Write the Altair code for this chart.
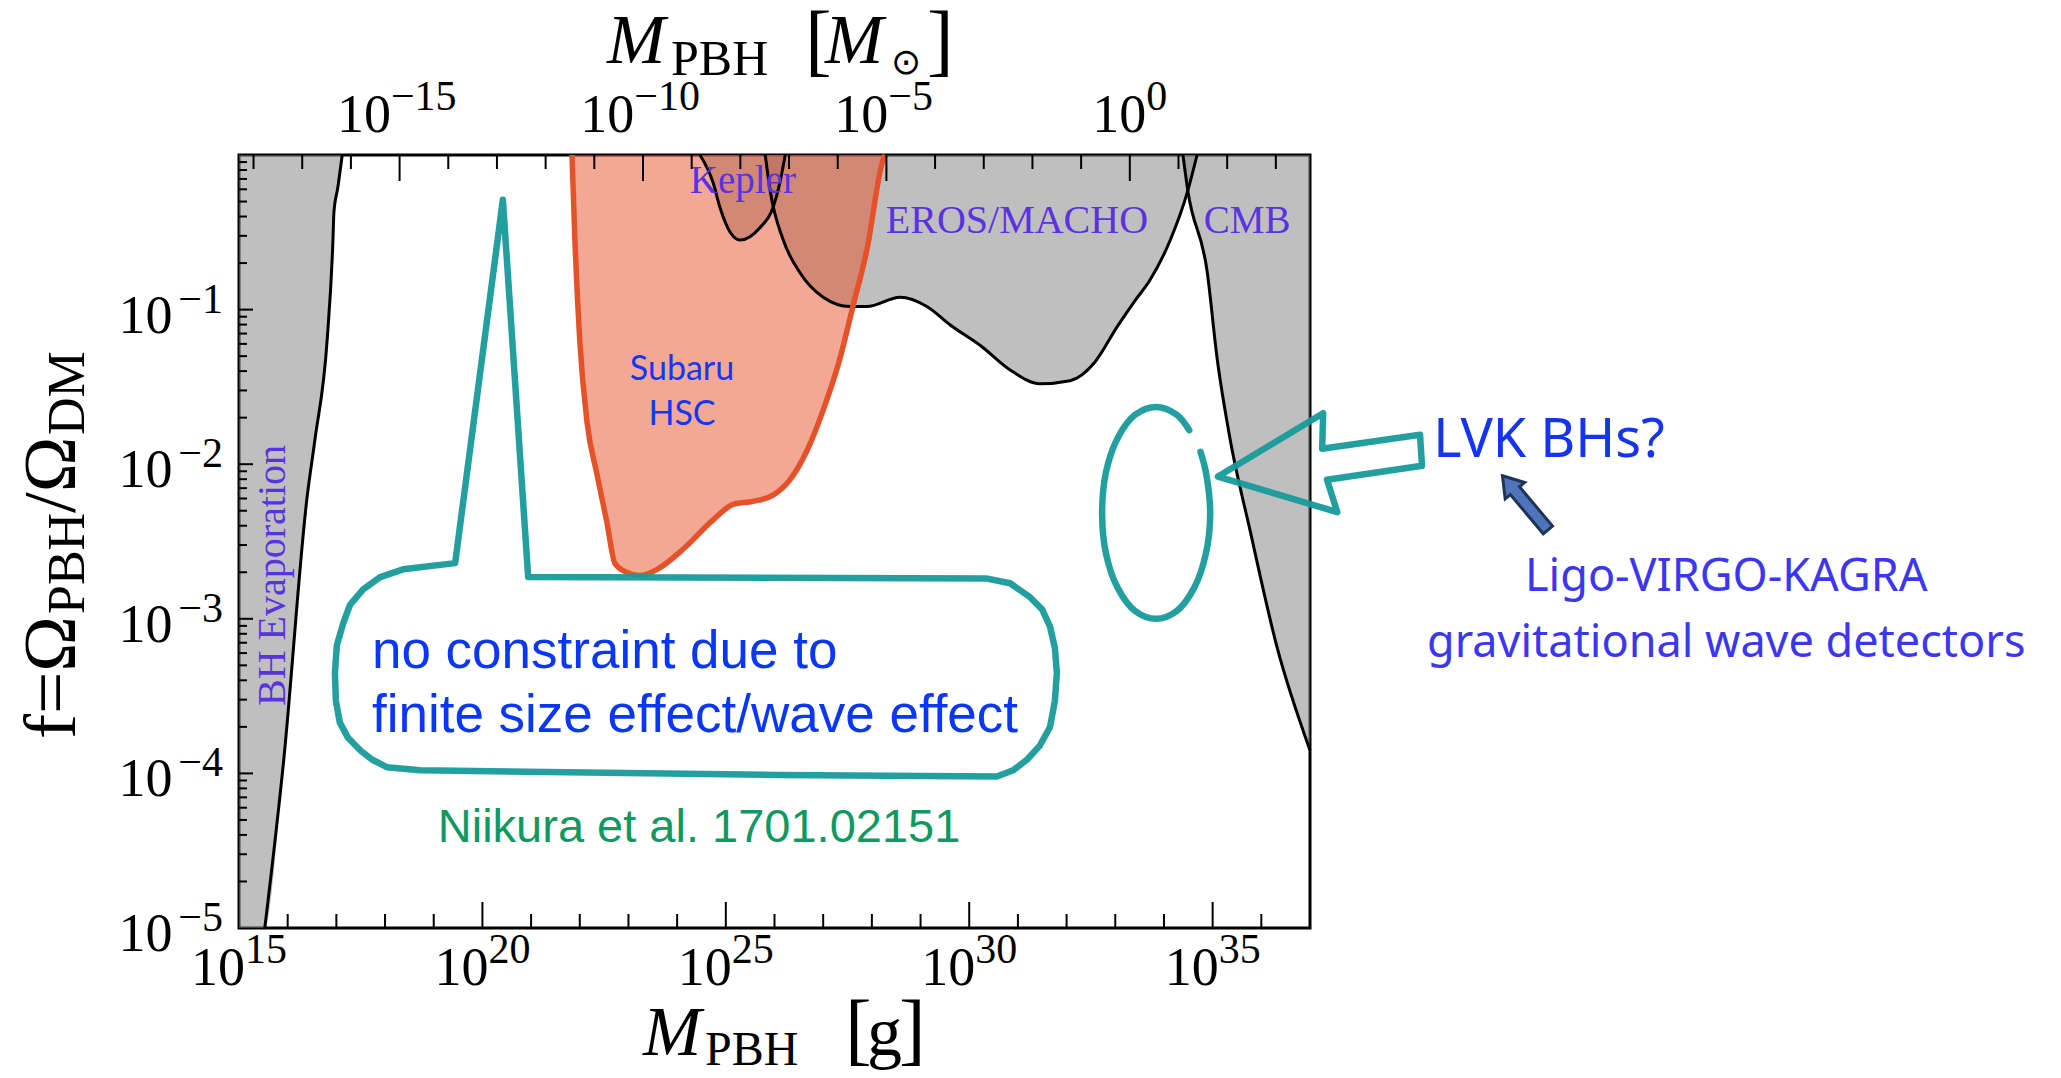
import altair as alt
import pandas as pd

W, H = 1071, 773
MSUN_LOG = 33.2986  # log10 of one solar mass in grams

# ---------------- data (log10 M[g], log10 f) ----------------
bh_x = [15.0, 15.53, 15.92, 16.40, 16.56, 16.81, 16.93, 16.95, 17.03, 17.12]
bh_y = [-5.0, -5.0, -3.91, -2.21, -1.84, -1.20, -0.55, -0.37, -0.21, 0.0]

kep_x = [24.47, 24.74, 24.88, 25.09, 25.29, 25.70, 25.97, 26.11, 26.22]
kep_y = [0.0, -0.18, -0.34, -0.50, -0.55, -0.47, -0.34, -0.18, 0.0]

eros_x = [25.81, 25.91, 26.18, 26.52, 27.00, 27.55, 27.90, 28.58, 29.13, 29.61,
          30.26, 30.84, 31.45, 32.07, 32.58, 33.04, 33.41, 33.71, 34.13, 34.49, 34.68]
eros_y = [0.0, -0.23, -0.55, -0.76, -0.92, -0.98, -0.98, -0.92, -0.98, -1.10,
          -1.24, -1.39, -1.48, -1.46, -1.34, -1.11, -0.94, -0.81, -0.55, -0.23, 0.0]

cmb_x = [34.39, 34.49, 34.89, 35.09, 35.36, 35.77, 36.32, 37.0]
cmb_y = [0.0, -0.23, -0.76, -1.31, -1.84, -2.43, -3.18, -3.85]

sub_x = [21.84, 21.90, 22.00, 22.15, 22.35, 22.56, 22.72, 22.97, 23.24, 23.59, 24.12,
         24.74, 25.15, 25.56, 25.97, 26.32, 26.67, 27.00, 27.35, 27.61, 27.90, 28.23, 28.27]
sub_y = [0.0, -0.55, -1.20, -1.73, -2.06, -2.38, -2.64, -2.70, -2.72, -2.68, -2.55,
         -2.36, -2.26, -2.24, -2.20, -2.10, -1.91, -1.65, -1.31, -0.98, -0.61, -0.03, 0.0]

# hand-drawn teal annotations
box_x = [20.42, 20.94, 30.37, 30.84, 31.25, 31.50, 31.66, 31.76, 31.80, 31.76, 31.66,
         31.45, 31.19, 30.90, 30.57, 26.11, 18.72, 18.04, 17.73, 17.49, 17.24, 17.07,
         16.99, 16.97, 17.01, 17.14, 17.28, 17.55, 17.90, 18.37, 19.44, 20.42]
box_y = [-0.29, -2.73, -2.74, -2.77, -2.86, -2.94, -3.05, -3.19, -3.35, -3.53, -3.70,
         -3.82, -3.91, -3.98, -4.02, -4.01, -3.98, -3.96, -3.91, -3.85, -3.77, -3.67,
         -3.53, -3.35, -3.17, -3.03, -2.91, -2.81, -2.73, -2.68, -2.64, -0.29]

ell_x = [34.75, 34.86, 34.95, 34.86, 34.62, 34.26, 33.84, 33.41, 33.05, 32.81, 32.73,
         32.81, 33.05, 33.41, 33.84, 34.26, 34.52]
ell_y = [-1.92, -2.05, -2.32, -2.58, -2.80, -2.95, -3.00, -2.95, -2.80, -2.58, -2.32,
         -2.05, -1.83, -1.68, -1.63, -1.68, -1.78]

arr_x = [35.11, 37.27, 37.25, 39.26, 39.30, 37.35, 37.56, 35.11]
arr_y = [-2.08, -1.67, -1.90, -1.81, -2.01, -2.10, -2.31, -2.08]

# axis ticks / labels
bottom_major = [15, 20, 25, 30, 35]
top_major = [-15, -10, -5, 0]
left_major = [-1, -2, -3, -4, -5]

# ---------------- helpers ----------------
xs = alt.Scale(type="log", domain=[1e15, 1e37], nice=False)
ys = alt.Scale(type="log", domain=[1e-5, 1.0], nice=False)
X = alt.X("x:Q", scale=xs, axis=None)
Y = alt.Y("y:Q", scale=ys, axis=None)


def frame(xl, yl):
    return pd.DataFrame({"x": [10.0 ** v for v in xl],
                         "y": [10.0 ** v for v in yl],
                         "top": [1.0] * len(xl),
                         "i": list(range(len(xl)))})


def region(xl, yl, color="#808080", op=0.5):
    return alt.Chart(frame(xl, yl)).mark_area(
        color=color, opacity=op, interpolate="monotone"
    ).encode(x=X, y=alt.Y("y:Q", scale=ys, axis=None, stack=None), y2="top:Q")


def curve(xl, yl, color="black", width=3):
    return alt.Chart(frame(xl, yl)).mark_line(
        color=color, strokeWidth=width, interpolate="monotone"
    ).encode(x=X, y=Y)


def path(xl, yl, interp="linear", color="#179A9A", width=6.5):
    return alt.Chart(frame(xl, yl)).mark_line(
        color=color, strokeWidth=width, strokeJoin="round", strokeCap="round",
        opacity=0.95, interpolate=interp
    ).encode(x=X, y=Y, order=alt.Order("i:Q"))


def label(xl, yl, text, **kw):
    d = pd.DataFrame({"x": [10.0 ** xl], "y": [10.0 ** yl], "t": [text]})
    return alt.Chart(d).mark_text(**kw).encode(x=X, y=Y, text="t:N")


def ptext(px, py, text, **kw):
    return alt.Chart(pd.DataFrame({"t": [text]})).mark_text(**kw).encode(
        x=alt.value(px), y=alt.value(py), text="t:N")


SERIF = "Liberation Serif"
PURPLE = "#5A33E0"
layers = []

# gray excluded regions
for xl, yl in [(bh_x, bh_y), (kep_x, kep_y), (eros_x, eros_y), (cmb_x, cmb_y)]:
    layers.append(region(xl, yl))
# Subaru HSC region
layers.append(region(sub_x, sub_y, color="#E5522A", op=0.5))
# black boundaries
for xl, yl in [(bh_x[1:], bh_y[1:]), (kep_x, kep_y), (eros_x, eros_y), (cmb_x, cmb_y)]:
    layers.append(curve(xl, yl))
layers.append(curve(sub_x, sub_y, color="#E5522A", width=5.5))

# teal hand-drawn shapes
layers.append(path(box_x, box_y))
layers.append(path(ell_x, ell_y, interp="catmull-rom"))
layers.append(path(arr_x, arr_y))

# small blue arrow
arrow_shape = "M0,-1 L0.36,-0.45 L0.17,-0.45 L0.17,1 L-0.17,1 L-0.17,-0.45 L-0.36,-0.45 Z"
layers.append(
    alt.Chart(frame([41.42], [-2.25])).mark_point(
        shape=arrow_shape, size=5000, angle=320, filled=True,
        fill="#4F74BC", stroke="#1F3556", strokeWidth=3, opacity=1
    ).encode(x=X, y=Y)
)

# region labels (serif, purple)
layers.append(label(25.35, -0.246, "Kepler", font=SERIF, fontSize=39, color=PURPLE, align="center", baseline="alphabetic"))
layers.append(label(30.98, -0.505, "EROS/MACHO", font=SERIF, fontSize=40, color=PURPLE, align="center", baseline="alphabetic"))
layers.append(label(35.71, -0.505, "CMB", font=SERIF, fontSize=39, color=PURPLE, align="center", baseline="alphabetic"))
layers.append(label(15.70, -2.72, "BH Evaporation", font=SERIF, fontSize=40, color=PURPLE, align="center", baseline="middle", angle=270))

# Subaru HSC label
layers.append(label(24.10, -1.455, "Subaru", font="Lato", fontSize=34, color="#1238F0", align="center", baseline="alphabetic"))
layers.append(label(24.10, -1.746, "HSC", font="Lato", fontSize=34, color="#1238F0", align="center", baseline="alphabetic"))

# annotation texts
layers.append(label(17.73, -3.318, "no constraint due to", font="Liberation Sans", fontSize=53, color="#0A37F6", align="left", baseline="alphabetic"))
layers.append(label(17.73, -3.732, "finite size effect/wave effect", font="Liberation Sans", fontSize=53, color="#0A37F6", align="left", baseline="alphabetic"))
layers.append(label(24.45, -4.444, "Niikura et al. 1701.02151", font="Liberation Sans", fontSize=47, color="#0F9960", align="center", baseline="alphabetic"))
layers.append(label(39.53, -1.953, "LVK BHs?", font="Noto Sans", fontSize=54, color="#1434F0", align="left", baseline="alphabetic"))
layers.append(label(45.55, -2.82, "Ligo-VIRGO-KAGRA", font="Noto Sans", fontSize=45, color="#3B36F2", align="center", baseline="alphabetic"))
layers.append(label(45.55, -3.247, "gravitational wave detectors", font="Noto Sans", fontSize=45, color="#3B36F2", align="center", baseline="alphabetic"))

# ---------------- ticks ----------------
def xticks(vals, top, length):
    d = pd.DataFrame({"x": vals})
    y0, y1 = (0, length) if top else (H, H - length)
    return alt.Chart(d).mark_rule(color="black", strokeWidth=2).encode(
        x=X, y=alt.value(y0), y2=alt.value(y1))


def yticks(vals, length):
    d = pd.DataFrame({"y": vals})
    return alt.Chart(d).mark_rule(color="black", strokeWidth=2).encode(
        y=Y, x=alt.value(0), x2=alt.value(length))


layers.append(xticks([10.0 ** k for k in range(16, 37) if k % 5 == 0], False, 26))
layers.append(xticks([10.0 ** k for k in range(16, 37) if k % 5 != 0], False, 14))
top_all = [k for k in range(-18, 4)]
layers.append(xticks([10.0 ** (MSUN_LOG + k) for k in top_all if k % 5 == 0], True, 26))
layers.append(xticks([10.0 ** (MSUN_LOG + k) for k in top_all if k % 5 != 0], True, 14))
layers.append(yticks([10.0 ** k for k in range(-4, 0)], 14))
layers.append(yticks([m * 10.0 ** k for k in range(-5, 0) for m in range(2, 10)], 8))

# ---------------- tick labels ----------------
BASE, EXPO = 54, 42


def expo_width(s):
    return sum(0.70 if c == "\u2212" else 0.5 for c in s) * EXPO


for k in bottom_major:
    e = str(k)
    split = (BASE - expo_width(e)) / 2
    d = pd.DataFrame({"x": [10.0 ** k], "b": ["10"], "e": [e]})
    layers.append(alt.Chart(d).mark_text(font=SERIF, fontSize=BASE, align="right", baseline="alphabetic", dx=split, color="black").encode(x=X, y=alt.value(H + 57), text="b:N"))
    layers.append(alt.Chart(d).mark_text(font=SERIF, fontSize=EXPO, align="left", baseline="alphabetic", dx=split, color="black").encode(x=X, y=alt.value(H + 35), text="e:N"))

for k in top_major:
    e = str(k).replace("-", "\u2212")
    split = (BASE - expo_width(e)) / 2
    d = pd.DataFrame({"x": [10.0 ** (MSUN_LOG + k)], "b": ["10"], "e": [e]})
    layers.append(alt.Chart(d).mark_text(font=SERIF, fontSize=BASE, align="right", baseline="alphabetic", dx=split, color="black").encode(x=X, y=alt.value(-23), text="b:N"))
    layers.append(alt.Chart(d).mark_text(font=SERIF, fontSize=EXPO, align="left", baseline="alphabetic", dx=split, color="black").encode(x=X, y=alt.value(-45), text="e:N"))

for k in left_major:
    e = str(k).replace("-", "\u2212")
    d = pd.DataFrame({"y": [10.0 ** k], "b": ["10"], "e": [e]})
    layers.append(alt.Chart(d).mark_text(font=SERIF, fontSize=EXPO, align="right", baseline="alphabetic", dy=3, color="black").encode(y=Y, x=alt.value(-16), text="e:N"))
    layers.append(alt.Chart(d).mark_text(font=SERIF, fontSize=BASE, align="right", baseline="alphabetic", dy=23, color="black").encode(y=Y, x=alt.value(-16 - expo_width(e)), text="b:N"))

# ---------------- axis titles ----------------
# top: M_PBH [M_sun]
layers.append(ptext(368, -92, "M", font=SERIF, fontSize=70, fontStyle="italic", align="left", baseline="alphabetic"))
layers.append(ptext(432, -80, "PBH", font=SERIF, fontSize=50, align="left", baseline="alphabetic"))
layers.append(ptext(566, -89, "[", font=SERIF, fontSize=80, align="left", baseline="alphabetic"))
layers.append(ptext(586, -92, "M", font=SERIF, fontSize=70, fontStyle="italic", align="left", baseline="alphabetic"))
layers.append(ptext(652, -81, "\u2299", font="DejaVu Sans", fontSize=36, align="left", baseline="alphabetic"))
layers.append(ptext(688, -89, "]", font=SERIF, fontSize=80, align="left", baseline="alphabetic"))
# bottom: M_PBH [g]
layers.append(ptext(404, 900, "M", font=SERIF, fontSize=70, fontStyle="italic", align="left", baseline="alphabetic"))
layers.append(ptext(466, 910, "PBH", font=SERIF, fontSize=48, align="left", baseline="alphabetic"))
layers.append(ptext(606, 900, "[", font=SERIF, fontSize=80, align="left", baseline="alphabetic"))
layers.append(ptext(628, 900, "g", font=SERIF, fontSize=70, align="left", baseline="alphabetic"))
layers.append(ptext(660, 900, "]", font=SERIF, fontSize=80, align="left", baseline="alphabetic"))
# left: f = Omega_PBH / Omega_DM (rotated)
layers.append(ptext(-164, 584, "f=\u03a9", font=SERIF, fontSize=75, angle=270, align="left", baseline="alphabetic"))
layers.append(ptext(-155, 459, "PBH", font=SERIF, fontSize=52, angle=270, align="left", baseline="alphabetic"))
layers.append(ptext(-164, 358, "/\u03a9", font=SERIF, fontSize=75, angle=270, align="left", baseline="alphabetic"))
layers.append(ptext(-155, 280, "DM", font=SERIF, fontSize=52, angle=270, align="left", baseline="alphabetic"))

chart = alt.layer(*layers).properties(
    width=W, height=H,
    padding={"left": 231, "top": 147, "right": 740, "bottom": 142},
    autosize=alt.AutoSizeParams(type="none"),
    background="white",
).configure_view(stroke="black", strokeWidth=3)

chart.save("out.html", embed_options={"renderer": "svg", "actions": False})
